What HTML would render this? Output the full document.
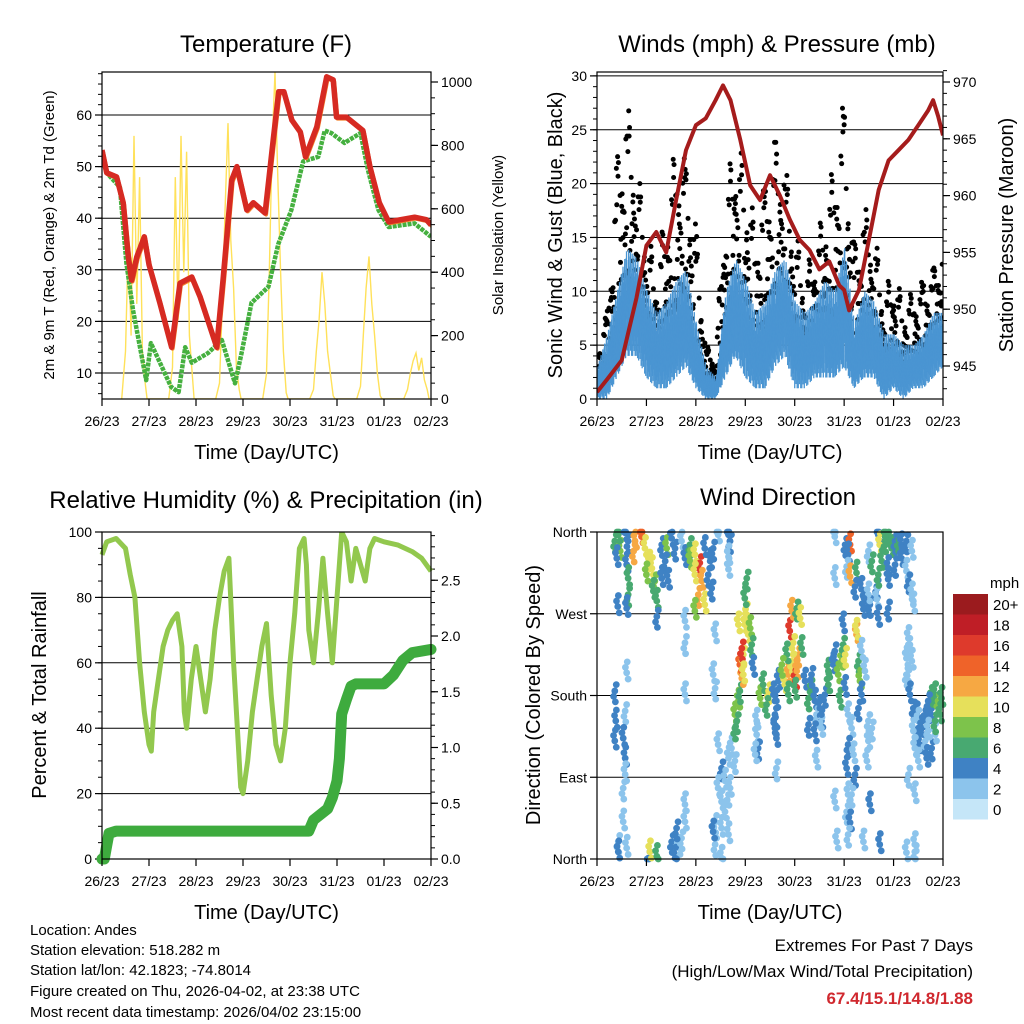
<!DOCTYPE html>
<html><head><meta charset="utf-8">
<style>
html,body{margin:0;padding:0;background:#fff;}
svg{display:block;font-family:"Liberation Sans",sans-serif;}
</style></head>
<body>
<svg id="root" width="1024" height="1024" viewBox="0 0 1024 1024" xmlns="http://www.w3.org/2000/svg">
<rect width="1024" height="1024" fill="#fff"/>
<g font-size="15" fill="#000">
<text x="30" y="935">Location: Andes</text>
<text x="30" y="955">Station elevation: 518.282 m</text>
<text x="30" y="975">Station lat/lon: 42.1823; -74.8014</text>
<text x="30" y="996">Figure created on Thu, 2026-04-02, at 23:38 UTC</text>
<text x="30" y="1017">Most recent data timestamp: 2026/04/02 23:15:00</text>
</g>
<g text-anchor="end">
<text x="973" y="951" font-size="17">Extremes For Past 7 Days</text>
<text x="973" y="977" font-size="17">(High/Low/Max Wind/Total Precipitation)</text>
<text x="973" y="1004" font-size="17" font-weight="bold" fill="#d0282e">67.4/15.1/14.8/1.88</text>
</g>
</svg>
<script>
// ---------- DATA ----------
const dayLabels = ["26/23","27/23","28/23","29/23","30/23","31/23","01/23","02/23"];
const tempT = [0,0.1,0.31,0.45,0.56,0.63,0.74,0.9,1.0,1.23,1.48,1.66,1.91,2.09,2.44,2.58,2.76,2.87,3.08,3.22,3.47,3.65,3.76,3.87,4.04,4.22,4.33,4.57,4.78,4.92,4.99,5.2,5.55,5.7,5.9,6.1,6.65,6.9,7.0];
const tempV = [53.2,48.8,48,43,32.5,28,32.5,36.4,31,23.6,15,27.4,28.6,24.7,15,28.6,47.4,50,41.6,43,41,55.7,64.5,64.5,59,56.7,51.9,57.7,67.4,66.8,59.6,59.6,57,50,43,39.3,40.2,39.7,38.7];
const dewT = [0,0.1,0.38,0.52,0.66,0.94,1.04,1.47,1.63,1.77,1.91,2.26,2.55,2.83,2.97,3.18,3.54,3.75,4.03,4.28,4.6,4.74,4.88,5.16,5.5,5.66,5.88,6.1,6.65,7.0];
const dewV = [51.9,48.8,46,31.3,22.2,8.6,15.8,7.3,6.3,15,12,13.9,16.4,8,13.9,23.6,26.7,35,41.6,51,51.9,57,56.5,54.6,56.5,49.3,41.6,38.3,39,36.4];
const solarFrac = [0.42,0.5,0.56,0.62,0.68,0.74,0.8,0.86,0.92,0.96];
const solarDays = [
 [0,150,500,200,830,300,700,150,50,0],
 [0,100,700,250,830,400,780,200,80,0],
 [0,50,300,600,870,500,350,100,30,0],
 [0,80,400,800,1030,700,400,150,20,0],
 [0,30,150,250,400,300,150,80,10,0],
 [0,40,200,350,450,300,200,80,10,0],
 [0,30,80,120,145,90,130,60,30,0]
];
const windT = [0,0.2,0.4,0.6,0.8,1.0,1.2,1.4,1.6,1.8,2.0,2.2,2.4,2.6,2.8,3.0,3.2,3.4,3.6,3.8,4.0,4.2,4.4,4.6,4.8,5.0,5.2,5.4,5.6,5.8,6.0,6.2,6.4,6.6,6.8,7.0];
const gustHi = [5,8,22,28,22,16,12,18,24,22,16,5,4,20,24,22,16,20,24,22,16,12,14,18,22,28,14,18,16,10,12,9,10,11,12,14];
const gustLo = [1,2,6,10,10,5,3,5,8,9,3,2,1,6,10,6,4,6,9,10,4,3,5,6,7,8,3,5,5,2,3,2,3,3,5,7];
const windHi = [3,6,10,14,13,10,8,9,11,12,7,3,2,10,13,11,8,9,12,13,9,8,9,11,10,14,7,10,9,6,6,5,5,6,8,8];
const windLo = [0,0,2,4,4,2,1,1,2,3,1,0,0,2,4,2,1,1,3,4,1,1,2,2,2,3,1,2,2,0,1,0,1,1,2,3];
const presT = [0,0.2,0.5,0.8,1.0,1.2,1.4,1.6,1.8,2.0,2.2,2.4,2.55,2.7,2.9,3.1,3.3,3.5,3.7,3.9,4.1,4.3,4.5,4.7,4.9,5.0,5.1,5.3,5.5,5.7,5.9,6.1,6.3,6.5,6.7,6.8,6.9,7.0];
const presV = [942.7,943.8,945.5,951,955.6,956.8,955,959.6,964,966.2,966.8,968.4,969.7,968.4,964.9,960.9,959.6,961.8,960,957.9,956.1,955.2,953.5,954.2,952.1,951.7,949.9,951.7,956.1,960.5,963.1,964,964.9,966.2,967.5,968.4,967,965.3];
const rhT = [0,0.1,0.3,0.5,0.6,0.7,0.8,0.9,1.0,1.05,1.1,1.2,1.3,1.4,1.5,1.6,1.7,1.75,1.8,1.9,2.0,2.1,2.2,2.3,2.4,2.5,2.6,2.7,2.8,2.9,2.95,3.0,3.1,3.2,3.3,3.4,3.5,3.6,3.7,3.8,3.9,4.0,4.1,4.2,4.3,4.35,4.4,4.5,4.6,4.7,4.8,4.9,5.0,5.1,5.2,5.3,5.4,5.5,5.6,5.7,5.8,6.0,6.3,6.6,6.8,7.0];
const rhV = [93,97,98,95,87,80,60,45,35,33,45,55,65,70,73,75,65,45,40,55,65,55,45,55,70,80,88,92,60,35,22,20,30,45,55,65,72,50,35,30,40,60,75,95,98,90,70,60,75,92,75,60,80,100,97,85,95,90,85,95,98,97,96,94,92,88];
const precipT = [0,0.05,0.1,0.15,0.3,1.0,4.4,4.5,4.8,4.9,5.0,5.05,5.1,5.2,5.3,5.4,6.0,6.2,6.4,6.6,7.0];
const precipV = [0,0,0.12,0.23,0.25,0.25,0.25,0.35,0.45,0.55,0.7,0.9,1.3,1.43,1.55,1.57,1.57,1.65,1.78,1.85,1.88];
const dirT = [0.36,0.47,0.40,0.63,0.60,0.63,0.63,0.60,0.77,0.74,0.90,0.97,1.04,1.11,1.00,1.17,1.14,1.21,1.31,1.41,1.51,1.38,1.31,1.44,1.58,1.71,1.78,1.88,1.88,1.98,2.08,1.98,2.12,2.05,2.18,1.98,2.25,2.29,2.18,2.32,0.42,1.78,1.21,0.43,0.57,
 0.36,0.38,0.36,0.57,0.53,0.57,0.53,0.57,0.53,0.43,0.60,0.43,1.04,1.07,1.21,1.51,1.65,1.58,1.71,1.78,1.78,1.61,
 0.60,1.78,1.78,2.39,2.35,2.39,
 2.45,2.66,2.69,2.66,2.66,2.35,
 2.72,2.66,2.52,2.59,2.45,2.66,2.52,2.59,2.39,2.52,2.66,2.39,2.52,2.45,2.79,2.69,2.35,
 2.79,2.79,2.86,2.89,2.93,2.89,2.96,3.06,2.99,2.93,3.03,3.10,3.13,3.16,2.99,3.03,2.86,2.96,2.83,
 3.30,3.36,3.47,3.57,3.63,3.60,3.60,3.63,3.43,3.23,3.23,3.26,3.20,3.67,3.63,
 3.80,3.87,3.94,3.90,3.94,4.04,4.01,4.04,4.07,4.11,4.14,3.97,3.84,3.87,3.74,4.01,
 4.21,4.28,4.34,4.41,4.44,4.54,4.54,4.28,4.41,4.51,4.61,4.68,4.78,4.81,4.68,4.44,4.34,
 4.88,4.95,4.98,4.92,5.02,5.02,5.08,5.15,5.08,5.05,5.19,5.22,5.08,4.81,5.05,5.12,4.85,5.08,5.25,5.25,5.29,5.32,5.35,5.29,5.35,5.42,5.49,5.49,5.46,5.56,5.52,5.39,5.15,4.98,
 4.81,5.02,5.12,5.08,5.05,5.12,5.25,5.22,5.35,5.42,5.52,5.49,5.39,5.66,5.66,4.81,5.49,5.69,5.72,5.89,
 5.69,5.72,5.83,5.89,5.96,6.03,6.10,6.16,6.26,6.37,5.76,5.69,5.89,5.89,6.03,6.16,6.26,6.30,6.37,6.40,5.56,5.83,
 6.30,6.30,6.26,6.37,6.26,6.30,6.33,6.40,6.47,6.50,6.47,6.53,6.57,6.64,6.64,6.70,6.77,6.77,6.84,6.90,6.94,6.97,6.70,6.67,6.50,6.77,6.84,6.70,6.84,6.43,6.40,6.30,6.43,6.43,6.43,6.26];
const dirDeg = [350,339,331,350,324,309,291,276,350,339,355,342,331,320,313,306,295,284,346,342,353,328,309,306,342,350,331,346,328,335,326,313,306,291,280,273,313,328,342,298,278,262,267,357,359,
 185,152,130,163,133,111,78,93,41,19,12,8,1,8,3,19,12,1,23,41,60,34,
 205,181,238,247,203,188,
 357,357,350,333,319,342,
 122,111,100,86,78,71,63,52,41,34,27,16,1,126,108,78,30,
 144,159,174,185,199,214,225,247,258,232,269,254,236,210,287,309,258,203,152,
 177,192,185,181,174,159,144,133,170,152,137,122,115,196,100,
 192,203,218,251,273,276,196,207,225,265,232,238,225,181,214,185,
 196,177,185,174,159,152,144,148,137,166,181,207,214,229,192,108,203,
 203,218,236,174,188,225,159,144,126,100,115,93,71,63,52,40,19,27,247,251,218,196,181,166,229,207,152,130,108,144,60,19,71,258,
 355,346,346,335,322,311,315,300,297,284,280,291,275,300,286,309,339,265,16,276,
 357,346,350,353,342,350,339,346,350,339,328,313,320,308,324,331,317,306,291,280,328,355,
 243,236,221,218,203,196,181,166,159,152,137,126,144,130,152,159,166,177,181,174,159,177,174,111,108,122,137,141,152,122,141,93,16,71,8,7];
const dirSpd = [6,8,4,4,4,6,6,4,12,12,14,10,10,10,8,8,6,6,4,8,4,4,4,4,4,2,4,6,8,10,16,10,12,12,10,8,4,4,4,4,4,2,4,6,4,
 4,4,4,2,4,4,2,2,2,2,2,4,4,10,6,4,2,4,2,2,2,4,
 2,2,2,2,2,2,
 2,4,4,2,2,4,
 2,2,4,2,2,2,2,2,2,2,2,2,2,2,2,2,4,
 6,8,8,6,12,14,10,10,10,16,10,8,6,4,6,6,10,10,6,
 8,6,10,4,4,4,4,4,6,2,2,4,2,4,2,
 10,12,10,16,12,6,16,12,12,10,6,10,6,6,8,6,
 4,6,6,4,2,4,2,4,4,4,4,6,4,4,6,2,4,
 8,8,6,6,4,10,2,2,4,4,2,4,2,2,2,4,2,2,12,10,6,8,4,4,2,2,2,2,2,2,4,2,2,4,
 2,4,14,4,2,12,6,4,4,4,4,2,4,4,2,2,2,4,4,4,
 4,10,6,6,6,4,6,4,4,2,6,6,4,4,4,4,2,4,2,2,6,6,
 2,2,2,2,2,2,4,4,4,2,4,4,4,2,4,4,4,6,6,8,6,6,4,4,2,4,2,2,6,2,2,2,2,2,2,2];
const speedLabels = ["20+","18","16","14","12","10","8","6","4","2","0"];
const speedColors = ["#9b1b1e","#bf1e26","#de3a2c","#ef6329","#f6a843","#e6e05b","#7dc34b","#48a971","#3f82c4","#8cc4ec","#c5e6f8"];

// ---------- HELPERS ----------
const NS = "http://www.w3.org/2000/svg";
const root = document.getElementById("root");
function mk(tag, attrs, parent) {
  const e = document.createElementNS(NS, tag);
  for (const k in attrs) e.setAttribute(k, attrs[k]);
  (parent || root).appendChild(e);
  return e;
}
function txt(s, attrs, parent) { const e = mk("text", attrs, parent); e.textContent = s; return e; }
function panel(name) {
  const g = mk("g", {});
  
  
  return g;
}
function frame(g, L, T, R, B) {
  const r = mk("rect", {x:L, y:T, width:R-L, height:B-T, fill:"none", stroke:"#000", "stroke-width":1.2}, g);
  
  
}
function xAxis(g, L, R, B, xs) {
  const ax = mk("g", {}, g);
  
  
  dayLabels.forEach((lab, i) => {
    const x = xs(i);
    mk("line", {x1:x, y1:B, x2:x, y2:B+7, stroke:"#000", "stroke-width":1.2}, ax);
    const t = txt(lab, {x:x, y:B+27, "font-size":14, "text-anchor":"middle"}, ax);
    
    
  });
  const tt = txt("Time (Day/UTC)", {x:(L+R)/2, y:B+60, "font-size":20, "text-anchor":"middle"}, ax);
  
  
}
function yTicks(g, side, X, vals, ys, labels, grid, L, R, minor) {
  const ax = mk("g", {}, g);
  
  
  if (minor) minor.forEach(v => {
    const y = ys(v);
    mk("line", {x1:X, y1:y, x2: side==="left"? X-4 : X+4, y2:y, stroke:"#000", "stroke-width":1}, ax);
  });
  vals.forEach((v, i) => {
    const y = ys(v);
    if (grid) mk("line", {x1:L, y1:y, x2:R, y2:y, stroke:"#000", "stroke-width":1}, ax);
    mk("line", {x1:X, y1:y, x2: side==="left"? X-7 : X+7, y2:y, stroke:"#000", "stroke-width":1.2}, ax);
    const t = txt(labels[i], {x: side==="left"? X-10 : X+10, y:y+5, "font-size":14, "text-anchor": side==="left"?"end":"start"}, ax);
    
    
  });
}
function title(s, x, y) {
  const t = txt(s, {x:x, y:y, "font-size":24, "text-anchor":"middle"});
  
  
}
function vlabel(s, x, y, size, name) {
  const t = txt(s, {x:x, y:y, "font-size":size, "text-anchor":"middle", transform:`rotate(-90 ${x} ${y})`});
  
  
}
function path(pts) { return pts.map((p,i)=> (i?"L":"M")+p[0].toFixed(1)+","+p[1].toFixed(1)).join(""); }
function range(a,b,s){const r=[];for(let v=a;v<=b+1e-9;v+=s)r.push(+v.toFixed(4));return r;}

// ---------- PANEL 1: TEMPERATURE ----------
(function(){
  const L=102,T=72,R=431,B=399;
  const xs = t => L + (R-L)*t/7;
  const yL = v => 373 - (v-10)*5.16;
  const yR = v => 399 - v*0.317;
  title("Temperature (F)", 266, 52);
  const g = panel("temperature-panel");
  const clip = mk("clipPath",{id:"c1"},g); mk("rect",{x:L,y:T,width:R-L,height:B-T},clip);
  yTicks(g,"left",L,[10,20,30,40,50,60],yL,["10","20","30","40","50","60"],true,L,R,range(6,68,2));
  yTicks(g,"right",R,[0,200,400,600,800,1000],yR,["0","200","400","600","800","1000"],false,L,R,range(0,1000,50));
  const data = mk("g",{"clip-path":"url(#c1)"},g);
  const sp = [];
  solarDays.forEach((vals,d)=> vals.forEach((v,i)=> sp.push([xs(d+solarFrac[i]), yR(v)])));
  const s = mk("path",{d:path(sp), fill:"none", stroke:"#ffe15a", "stroke-width":1.4}, data);
  
  
  const dp = mk("path",{d:path(dewT.map((t,i)=>[xs(t),yL(dewV[i])])), fill:"none", stroke:"#45b03f", "stroke-width":4.5, "stroke-dasharray":"4 1", "stroke-linejoin":"round"}, data);
  
  
  const op = mk("path",{d:path(tempT.map((t,i)=>[xs(t)+1,yL(tempV[i])+1.5])), fill:"none", stroke:"#f3812b", "stroke-width":4, "stroke-linejoin":"round"}, data);
  
  
  const tp = mk("path",{d:path(tempT.map((t,i)=>[xs(t),yL(tempV[i])])), fill:"none", stroke:"#d62a22", "stroke-width":5.5, "stroke-linejoin":"round"}, data);
  
  
  frame(g,L,T,R,B);
  xAxis(g,L,R,B,xs);
  vlabel("2m & 9m T (Red, Orange) & 2m Td (Green)", 54, 235, 15, "y-axis-title-left");
  vlabel("Solar Insolation (Yellow)", 503, 235, 15, "y-axis-title-right");
})();

// ---------- PANEL 2: WINDS & PRESSURE ----------
(function(){
  const L=597,T=72,R=943,B=399;
  const xs = t => L + (R-L)*t/7;
  const yL = v => 399 - v*10.77;
  const yR = v => 366 - (v-945)*11.36;
  title("Winds (mph) & Pressure (mb)", 777, 52);
  const g = panel("winds-pressure-panel");
  const clip = mk("clipPath",{id:"c2"},g); mk("rect",{x:L,y:T,width:R-L,height:B-T},clip);
  yTicks(g,"left",L,[0,5,10,15,20,25,30],yL,["0","5","10","15","20","25","30"],true,L,R,range(0,30,1));
  yTicks(g,"right",R,[945,950,955,960,965,970],yR,["945","950","955","960","965","970"],false,L,R,range(943,971,1));
  const data = mk("g",{"clip-path":"url(#c2)"},g);
  // gust dots (behind)
  const frac=[0.1,0.7,0.35,0.9,0.5,0.2,0.8,0.05,0.6,0.4,0.95,0.25,0.55,0.15,0.75,0.45,0.85,0.3,0.65,0.0,1.0,0.38,0.58,0.12];
  const gg = mk("g",{fill:"#000"},data);
  
  
  for (let i=0;i<windT.length-1;i++){
    const n=24;
    for (let k=0;k<n;k++){
      const f=k/n, t=windT[i]+(windT[i+1]-windT[i])*f;
      const hi = gustHi[i]+(gustHi[i+1]-gustHi[i])*f, lo = gustLo[i]+(gustLo[i+1]-gustLo[i])*f;
      const q = frac[(k*7+i*3)%frac.length];
      const v = lo + (hi-lo)*q*q*0.3 + (hi-lo)*q*0.7;
      mk("circle",{cx:xs(t), cy:yL(v), r:2.5}, gg);
    }
  }
  // sonic wind band
  const wb = mk("g",{stroke:"#4a95d2", "stroke-width":1.3}, data);
  
  
  const pa=[0.0,0.3,0.1,0.5,0.05,0.2,0.4,0.0,0.15,0.35], pb=[1.0,0.7,0.9,0.6,0.85,1.0,0.75,0.95,0.65,0.8];
  for (let i=0;i<windT.length-1;i++){
    const n=28;
    for (let k=0;k<n;k++){
      const f=k/n, t=windT[i]+(windT[i+1]-windT[i])*f;
      const hi = windHi[i]+(windHi[i+1]-windHi[i])*f, lo = windLo[i]+(windLo[i+1]-windLo[i])*f;
      const a = lo+(hi-lo)*pa[(k+i)%10], b = lo+(hi-lo)*pb[(k*3+i)%10];
      mk("line",{x1:xs(t), x2:xs(t)+0.6, y1:yL(a), y2:yL(b)}, wb);
    }
  }
  const pp = mk("path",{d:path(presT.map((t,i)=>[xs(t),yR(presV[i])])), fill:"none", stroke:"#a51c1c", "stroke-width":4, "stroke-linejoin":"round"}, data);
  
  
  frame(g,L,T,R,B);
  xAxis(g,L,R,B,xs);
  vlabel("Sonic Wind & Gust (Blue, Black)", 562, 235, 20, "y-axis-title-left");
  vlabel("Station Pressure (Maroon)", 1013, 235, 20, "y-axis-title-right");
})();

// ---------- PANEL 3: RH & PRECIP ----------
(function(){
  const L=102,T=532,R=431,B=859;
  const xs = t => L + (R-L)*t/7;
  const yL = v => 859 - v*3.27;
  const yR = v => 859 - v*111.5;
  title("Relative Humidity (%) & Precipitation (in)", 266, 508);
  const g = panel("humidity-precip-panel");
  const clip = mk("clipPath",{id:"c3"},g); mk("rect",{x:L-8,y:T,width:R-L+16,height:B-T+8},clip);
  yTicks(g,"left",L,[0,20,40,60,80,100],yL,["0","20","40","60","80","100"],true,L,R,range(0,100,5));
  yTicks(g,"right",R,[0,0.5,1.0,1.5,2.0,2.5],yR,["0.0","0.5","1.0","1.5","2.0","2.5"],false,L,R,range(0,2.9,0.1));
  const data = mk("g",{"clip-path":"url(#c3)"},g);
  const rp = mk("path",{d:path(rhT.map((t,i)=>[xs(t),yL(rhV[i])])), fill:"none", stroke:"#92c84e", "stroke-width":5, "stroke-linejoin":"round"}, data);
  
  
  const pr = mk("path",{d:path(precipT.map((t,i)=>[xs(t),yR(precipV[i])])), fill:"none", stroke:"#3eab3e", "stroke-width":11, "stroke-linejoin":"round", "stroke-linecap":"round"}, data);
  
  
  frame(g,L,T,R,B);
  xAxis(g,L,R,B,xs);
  vlabel("Percent & Total Rainfall", 46, 695, 20, "y-axis-title-left");
})();

// ---------- PANEL 4: WIND DIRECTION ----------
(function(){
  const L=597,T=532,R=943,B=859;
  const xs = t => L + (R-L)*t/7;
  const yD = d => 859 - d*(B-T)/360;
  title("Wind Direction", 778, 505);
  const g = panel("wind-direction-panel");
  yTicks(g,"left",L,[0,90,180,270,360],yD,["North","East","South","West","North"],true,L,R,null);
  const data = mk("g",{},g);
  
  
  const jt=[0,0.03,-0.025,0.012], jd=[0,-7,6,12];
  dirT.forEach((t,i)=>{
    const idx = 10 - Math.min(10, Math.round(dirSpd[i]/2));
    for (let j=0;j<4;j++){
      const d = Math.max(0, Math.min(360, dirDeg[i] + jd[j]*((i%3)-1 || 1)));
      const c = mk("circle",{cx:xs(t+jt[j]), cy:yD(d), r:3.4, fill:speedColors[idx]}, data);
      
      
    }
  });
  frame(g,L,T,R,B);
  xAxis(g,L,R,B,xs);
  vlabel("Direction (Colored By Speed)", 540, 695, 20, "y-axis-title-left");
  const lg = mk("g",{},g);
  
  
  const lt = txt("mph", {x:990, y:588, "font-size":15}, lg);
  
  
  speedLabels.forEach((lab,i)=>{
    const y = 594 + i*20.5;
    const r = mk("rect",{x:953, y:y, width:35, height:20.5, fill:speedColors[i]}, lg);
    
    
    const t = txt(lab, {x:993, y:y+16, "font-size":15}, lg);
    
    
  });
})();
</script>
</body></html>
